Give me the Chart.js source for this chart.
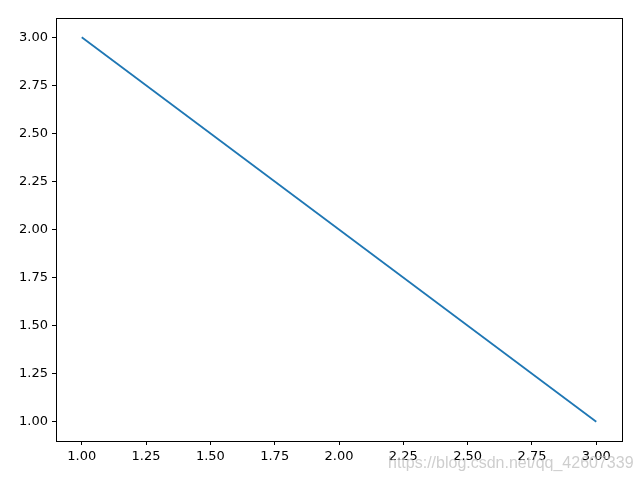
<!DOCTYPE html>
<html>
<head>
<meta charset="utf-8">
<script src="https://cdn.jsdelivr.net/npm/chart.js@4/dist/chart.umd.min.js"></script>
<style>
  html, body { margin: 0; padding: 0; background: #fff; }
  #wrap { width: 640px; height: 480px; position: relative; }
</style>
</head>
<body>
<div id="wrap"><canvas id="toolChart" width="640" height="480"></canvas></div>
<script>
// data
const xValues = [1, 2, 3];
const yValues = [3, 2, 1];
const xTicks = [1.00, 1.25, 1.50, 1.75, 2.00, 2.25, 2.50, 2.75, 3.00];
const yTicks = [1.00, 1.25, 1.50, 1.75, 2.00, 2.25, 2.50, 2.75, 3.00];
const watermark = 'https://blog.csdn.net/qq_42607339';

const points = xValues.map((x, i) => ({ x, y: yValues[i] }));

// frame round the plot area, plus the watermark
const framePlugin = {
  id: 'frame',
  afterDraw(chart) {
    const { ctx, chartArea: a } = chart;
    ctx.save();
    ctx.strokeStyle = '#000';
    ctx.lineWidth = 1;
    ctx.strokeRect(a.left + 0.5, a.top + 0.5, a.right - a.left, a.bottom - a.top);
    ctx.font = '16px "Liberation Sans", Arial, sans-serif';
    ctx.fillStyle = 'rgba(190,190,190,0.75)';
    ctx.textBaseline = 'alphabetic';
    ctx.fillText(watermark, 388, 468);
    ctx.restore();
  }
};

function axisOpts(ticks, fitFn) {
  return {
    type: 'linear',
    min: 0.9,
    max: 3.1,
    afterBuildTicks: s => { s.ticks = ticks.map(v => ({ value: v })); },
    afterFit: fitFn,
    grid: { drawOnChartArea: false, drawTicks: true, tickLength: 4, tickColor: '#000' },
    border: { display: true, color: '#000', width: 1 },
    ticks: {
      color: '#000',
      padding: 4,
      font: { family: 'DejaVu Sans', size: 13 },
      callback: v => Number(v).toFixed(2),
      maxRotation: 0,
      autoSkip: false
    }
  };
}

new Chart(document.getElementById('toolChart').getContext('2d'), {
  type: 'line',
  data: {
    datasets: [{
      data: points,
      borderColor: '#1f77b4',
      borderWidth: 1.8,
      pointRadius: 0,
      tension: 0,
      fill: false
    }]
  },
  options: {
    responsive: false,
    animation: false,
    layout: { padding: { top: 18, right: 18, left: 0, bottom: 0 } },
    plugins: { legend: { display: false }, tooltip: { enabled: false } },
    scales: {
      x: axisOpts(xTicks, s => { s.height = 39; }),
      y: axisOpts(yTicks, s => { s.width = 56; })
    }
  },
  plugins: [framePlugin]
});
</script>
</body>
</html>
